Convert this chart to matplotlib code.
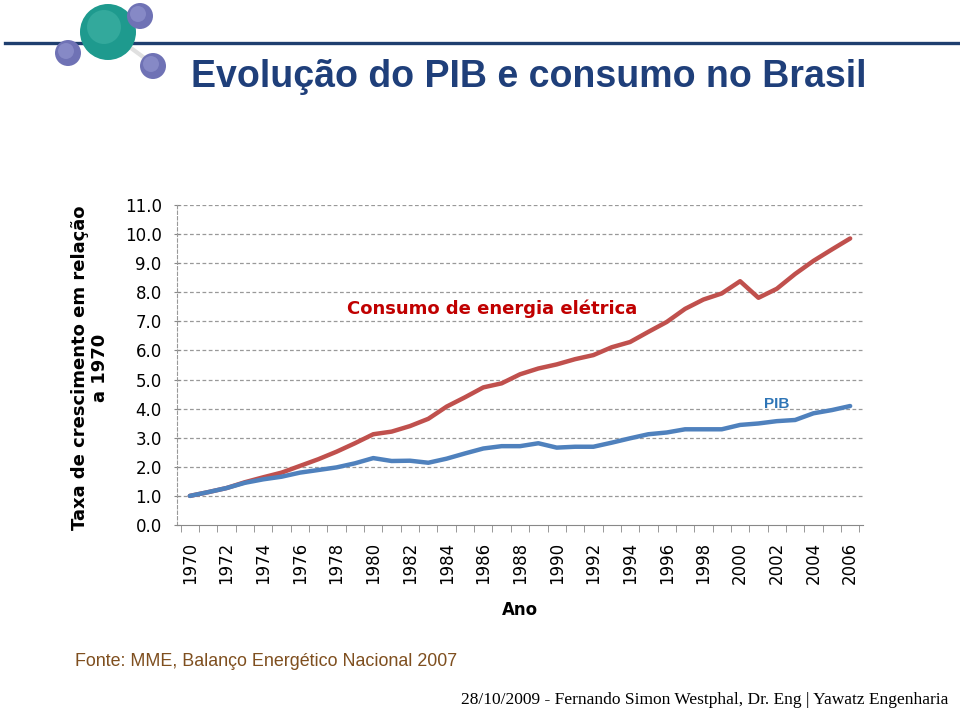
import matplotlib
matplotlib.use("Agg")
import matplotlib.pyplot as plt
from matplotlib.patches import Ellipse
from matplotlib.lines import Line2D

years = list(range(1970, 2007))
consumo = [1.00, 1.13, 1.27, 1.47, 1.64, 1.80, 2.03, 2.26, 2.52, 2.81,
           3.12, 3.21, 3.40, 3.65, 4.07, 4.39, 4.73, 4.87, 5.18, 5.38,
           5.52, 5.70, 5.84, 6.11, 6.29, 6.64, 6.98, 7.43, 7.75, 7.96,
           8.38, 7.81, 8.12, 8.63, 9.08, 9.47, 9.85]
pib = [1.00, 1.13, 1.27, 1.45, 1.57, 1.66, 1.80, 1.89, 1.98, 2.12,
       2.30, 2.20, 2.21, 2.14, 2.28, 2.46, 2.63, 2.71, 2.71, 2.81,
       2.66, 2.69, 2.69, 2.83, 2.98, 3.12, 3.18, 3.29, 3.29, 3.29,
       3.44, 3.49, 3.57, 3.61, 3.84, 3.95, 4.09]
yticks = [0, 1, 2, 3, 4, 5, 6, 7, 8, 9, 10, 11]

plt.rcParams['font.family'] = ['DejaVu Sans']

W, H = 960, 711
fig = plt.figure(figsize=(9.6, 7.11), dpi=100)
fig.patch.set_facecolor("white")

# header line and molecule logo (pixel coords, y from top)
def px(x, y):
    return x / W, 1 - y / H

def ball(x, y, r, c, z=3):
    fig.add_artist(Ellipse(px(x, y), 2*r/W, 2*r/H, transform=fig.transFigure,
                           facecolor=c, edgecolor="none", zorder=z))

fig.add_artist(Line2D([5/W, 1.0], [1-43/H, 1-43/H], color="#1F3F6F", lw=2.4, zorder=1))
fig.add_artist(Line2D([px(120, 40)[0], px(150, 62)[0]], [px(120, 40)[1], px(150, 62)[1]],
                      color="#E0E0E0", lw=3, zorder=2))
ball(108, 32, 28, "#1E9A8E")
ball(104, 27, 17, "#33A99C", 4)
ball(140, 16, 13, "#6F72B5")
ball(138, 14, 8, "#8689C6", 4)
ball(68, 53, 13, "#6F72B5")
ball(66, 51, 8, "#8689C6", 4)
ball(153, 66, 13, "#6F72B5")
ball(151, 64, 8, "#8689C6", 4)

fig.text(px(529, 0)[0], 1-77/H, "Evolução do PIB e consumo no Brasil", ha="center", va="center",
         fontsize=27, fontweight="bold", color="#1F3F7A", family="Liberation Sans")

ax = fig.add_axes([177/W, 186/H, 686/W, 320/H])
x = list(range(len(years)))
ax.plot(x, consumo, color="#C0504D", lw=3.2, solid_capstyle="round", zorder=3)
ax.plot(x, pib, color="#4F81BD", lw=3.2, solid_capstyle="round", zorder=3)

ax.set_xlim(-0.7, 36.7)
ax.set_ylim(0, 11)
ax.set_yticks(yticks)
ax.set_yticklabels([f"{v:.1f}" for v in yticks], fontsize=12)
ax.set_xticks(x[::2])
ax.set_xticklabels([str(y) for y in years[::2]], rotation=90, fontsize=12)
ax.set_xticks([i - 0.5 for i in x] + [36.5], minor=True)
ax.tick_params(axis="x", which="major", length=0, pad=12)
ax.tick_params(axis="x", which="minor", length=5, direction="out", color="#888888")
ax.tick_params(axis="y", length=4, direction="inout", color="#888888", pad=9)

for y in yticks[1:]:
    ax.axhline(y, color="#999999", lw=0.9, ls=(0, (3, 2)), zorder=1)
for s in ["top", "right"]:
    ax.spines[s].set_visible(False)
ax.spines["left"].set_linestyle((0, (3, 2)))
ax.spines["left"].set_color("#999999")
ax.spines["bottom"].set_color("#888888")

ax.text(16.5, 7.45, "Consumo de energia elétrica", ha="center", va="center",
        fontsize=13, fontweight="bold", color="#C00000")
ax.text(32.0, 4.15, "PIB", ha="center", va="center", fontsize=11,
        fontweight="bold", color="#2E75B6", family="Liberation Sans")

ax.set_xlabel("Ano", fontsize=12, fontweight="bold", labelpad=12)
fig.text(90/W, 1-368/H, "Taxa de crescimento em relação\na 1970", rotation=90,
         ha="center", va="center", fontsize=13, fontweight="bold", linespacing=1.1)

fig.text(75/W, 1-662/H, "Fonte: MME, Balanço Energético Nacional 2007",
         ha="left", va="center", fontsize=12.9, color="#7F4F1F", family="Liberation Sans")
fig.text(948/W, 1-700/H, "28/10/2009 - Fernando Simon Westphal, Dr. Eng | Yawatz Engenharia",
         ha="right", va="center", fontsize=12.5, family=["Liberation Serif", "DejaVu Serif"])

fig.savefig("out.png", dpi=100)
